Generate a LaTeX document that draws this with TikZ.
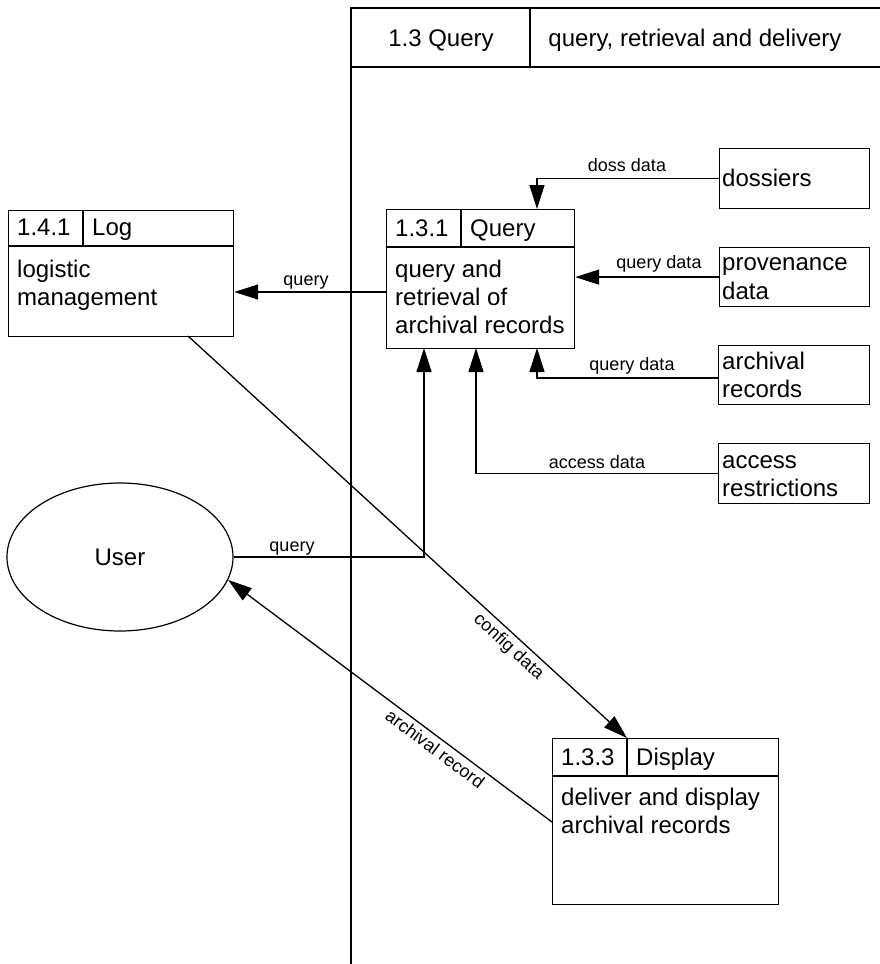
\documentclass[tikz,border=0pt]{standalone}
\usepackage{fontspec}
\setmainfont{Liberation Sans}
\usetikzlibrary{arrows.meta,shapes.geometric,calc}
\begin{document}
\begin{tikzpicture}[x=1pt,y=-1pt,
  every node/.style={font=\fontsize{24}{28}\selectfont, inner sep=0pt},
  box/.style={draw, line width=1.2pt, anchor=north west, inner sep=0pt},
  txt/.style={anchor=base west},
  lbl/.style={font=\fontsize{18}{21}\selectfont, anchor=base},
  slbl/.style={font=\fontsize{18}{21}\selectfont, sloped, below=4pt},
  ln/.style={line width=1.2pt},
  arr/.style={line width=1.3pt, -{Triangle[length=24pt,width=15pt]}},
  rarr/.style={line width=1.3pt, {Triangle[length=24pt,width=15pt]}-}]
\useasboundingbox (0,0) rectangle (880,964);

% swimlane
\draw[ln] (351,964) -- (351,8) -- (880,8);
\draw[ln] (351,67) -- (880,67);
\draw[ln] (530,8) -- (530,67);
\node[anchor=base] (laneid) at (441,46) {1.3 Query};
\node[anchor=base] (lanetitle) at (695,46) {query, retrieval and delivery};

% 1.4.1 Log
\node[box, minimum width=225pt, minimum height=126pt] (log) at (8,210) {};
\draw[ln] (8,246) -- (233,246);
\draw[ln] (83,210) -- (83,246);
\node[txt] (logid) at (17,235) {1.4.1};
\node[txt] (logname) at (92,235) {Log};
\node[txt] (logb1) at (17,277) {logistic};
\node[txt] (logb2) at (17,305) {management};

% 1.3.1 Query
\node[box, minimum width=188pt, minimum height=139pt] (q) at (386,209) {};
\draw[ln] (386,247) -- (574,247);
\draw[ln] (461,209) -- (461,247);
\node[txt] (qid) at (395,236) {1.3.1};
\node[txt] (qname) at (470,236) {Query};
\node[txt] (qb1) at (395,277) {query and};
\node[txt] (qb2) at (395,305) {retrieval of};
\node[txt] (qb3) at (395,333) {archival records};

% 1.3.3 Display
\node[box, minimum width=226pt, minimum height=166pt] (disp) at (552,738) {};
\draw[ln] (552,776) -- (778,776);
\draw[ln] (627,738) -- (627,776);
\node[txt] (did) at (561,765) {1.3.3};
\node[txt] (dname) at (636,765) {Display};
\node[txt] (db1) at (561,805) {deliver and display};
\node[txt] (db2) at (561,833) {archival records};

% stores
\node[box, minimum width=150pt, minimum height=60pt] (doss) at (719,148) {};
\node[txt] (dosst) at (722,186) {dossiers};
\node[box, minimum width=150pt, minimum height=59pt] (prov) at (719,247) {};
\node[txt] (provt1) at (722,270) {provenance};
\node[txt] (provt2) at (722,299) {data};
\node[box, minimum width=151pt, minimum height=59pt] (arch) at (718,345) {};
\node[txt] (archt1) at (722,369) {archival};
\node[txt] (archt2) at (722,397) {records};
\node[box, minimum width=151pt, minimum height=60pt] (acc) at (718,443) {};
\node[txt] (acct1) at (722,468) {access};
\node[txt] (acct2) at (722,496) {restrictions};

% user
\node[ellipse, draw, line width=1.2pt, minimum width=226pt, minimum height=148pt] (user) at (120,557) {User};

% connector coordinates
\coordinate (qdoss) at (537,209);
\coordinate (qarch) at (537,348);
\coordinate (qacc) at (476,348);
\coordinate (quser) at (424,348);
\coordinate (qlog) at (386,292);
\coordinate (cfgs) at (188,336);
\coordinate (cfge) at (627,738);
\coordinate (darc) at (552,822);

% connectors
\draw[arr] (doss.west) -| (qdoss);
\node[lbl] (l1) at (627,171) {doss data};
\draw[arr] (prov.west) -- (prov.west -| q.east);
\node[lbl] (l2) at (659,268) {query data};
\draw[arr] ([yshift=-3pt]arch.west) -| (qarch);
\node[lbl] (l3) at (632,370) {query data};
\draw[arr] (acc.west) -| (qacc);
\node[lbl] (l4) at (597,468) {access data};
\draw[arr] (user.east) -| (quser);
\node[lbl] (l5) at (292,551) {query};
\draw[arr] (qlog) -- (qlog -| log.east);
\node[lbl] (l6) at (306,285) {query};
\draw[arr] (cfgs) -- (cfge) node[slbl, pos=0.75] (l7) {config data};
\draw[rarr] (user.-12) -- (darc) node[slbl, pos=0.66] (l8) {archival record};
\end{tikzpicture}
\end{document}
